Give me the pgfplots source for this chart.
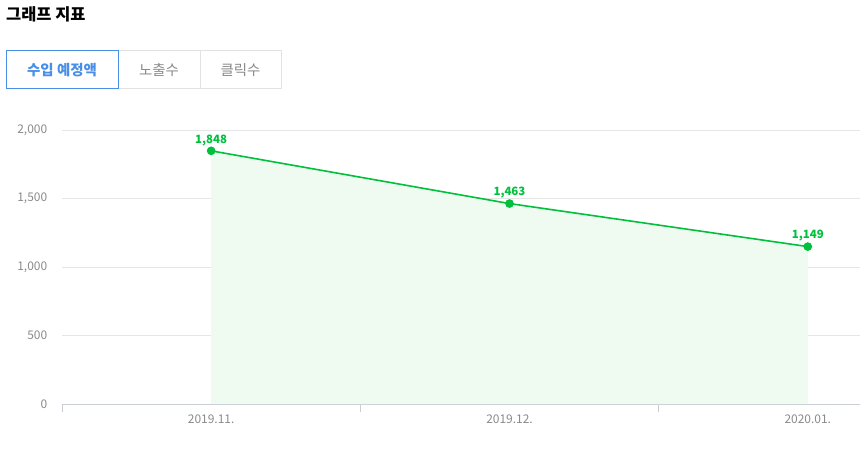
\documentclass[border=0pt]{standalone}
\usepackage{pgfplots}
\pgfplotsset{compat=1.18}
\usepackage{fontspec}
\setmainfont{Noto Sans CJK KR}
\definecolor{grn}{HTML}{00C03C}
\definecolor{fillgrn}{HTML}{EFFAF1}
\definecolor{gridgray}{HTML}{E6E6E6}
\definecolor{axisgray}{HTML}{C8CDD6}
\definecolor{lblgray}{HTML}{8A8A8A}
\definecolor{tabblue}{HTML}{4A8FE7}
\definecolor{tabborder}{HTML}{E2E2E2}
\definecolor{tabtext}{HTML}{8A8A8A}
\begin{document}
\begin{tikzpicture}[x=1bp,y=1bp]
\useasboundingbox (0,0) rectangle (860,-449);
\node[anchor=west, inner sep=0, font=\fontsize{16.5}{18}\selectfont\bfseries] at (6,-14) {그래프 지표};
\draw[tabborder, line width=1bp] (118,-50.5) rectangle (281,-88.5);
\draw[tabborder, line width=1bp] (200,-50.5) -- (200,-88.5);
\draw[tabblue, line width=1bp] (6.5,-50.5) rectangle (118.5,-88.5);
\node[font=\fontsize{14.5}{16}\selectfont\bfseries, text=tabblue] at (62,-70) {수입 예정액};
\node[font=\fontsize{14.5}{16}\selectfont, text=tabtext] at (159,-70) {노출수};
\node[font=\fontsize{14.5}{16}\selectfont, text=tabtext] at (240.5,-70) {클릭수};
\begin{axis}[
  at={(62bp,-404bp)}, anchor=south west,
  scale only axis, width=798bp, height=274bp,
  xmin=-0.5, xmax=2.175, ymin=0, ymax=2000,
  axis lines*=left,
  y axis line style={draw=none},
  x axis line style={draw=axisgray, line width=0.8bp},
  ytick={0,500,1000,1500,2000},
  ytick style={draw=none},
  ymajorgrids, grid style={gridgray, line width=0.8bp},
  xtick={0,1,2},
  xticklabels={2019.11.,2019.12.,2020.01.},
  major x tick style={draw=none},
  minor xtick={-0.5,0.5,1.5},
  minor x tick style={draw=axisgray, line width=0.8bp},
  minor tick length=8bp,
  tick align=outside,
  /pgf/number format/.cd, 1000 sep={,}, assume math mode=true, /pgfplots/.cd,
  ticklabel style={font=\fontsize{12}{14}\selectfont, text=lblgray},
  yticklabel style={xshift=-7bp},
  xticklabel style={yshift=-3bp},
  clip=false,
]
\addplot[fill=fillgrn, draw=none] coordinates {(0,1848) (1,1463) (2,1149)} \closedcycle;
\addplot[grn, line width=1.6bp, mark=*, mark size=3.5bp, mark options={fill=grn, draw=grn},
  nodes near coords={\pgfmathprintnumber{\pgfplotspointmeta}},
  every node near coord/.append style={font=\fontsize{11.5}{13}\selectfont\bfseries, text=grn, anchor=south, yshift=1bp}]
  coordinates {(0,1848) (1,1463) (2,1149)};
\end{axis}
\end{tikzpicture}
\end{document}
